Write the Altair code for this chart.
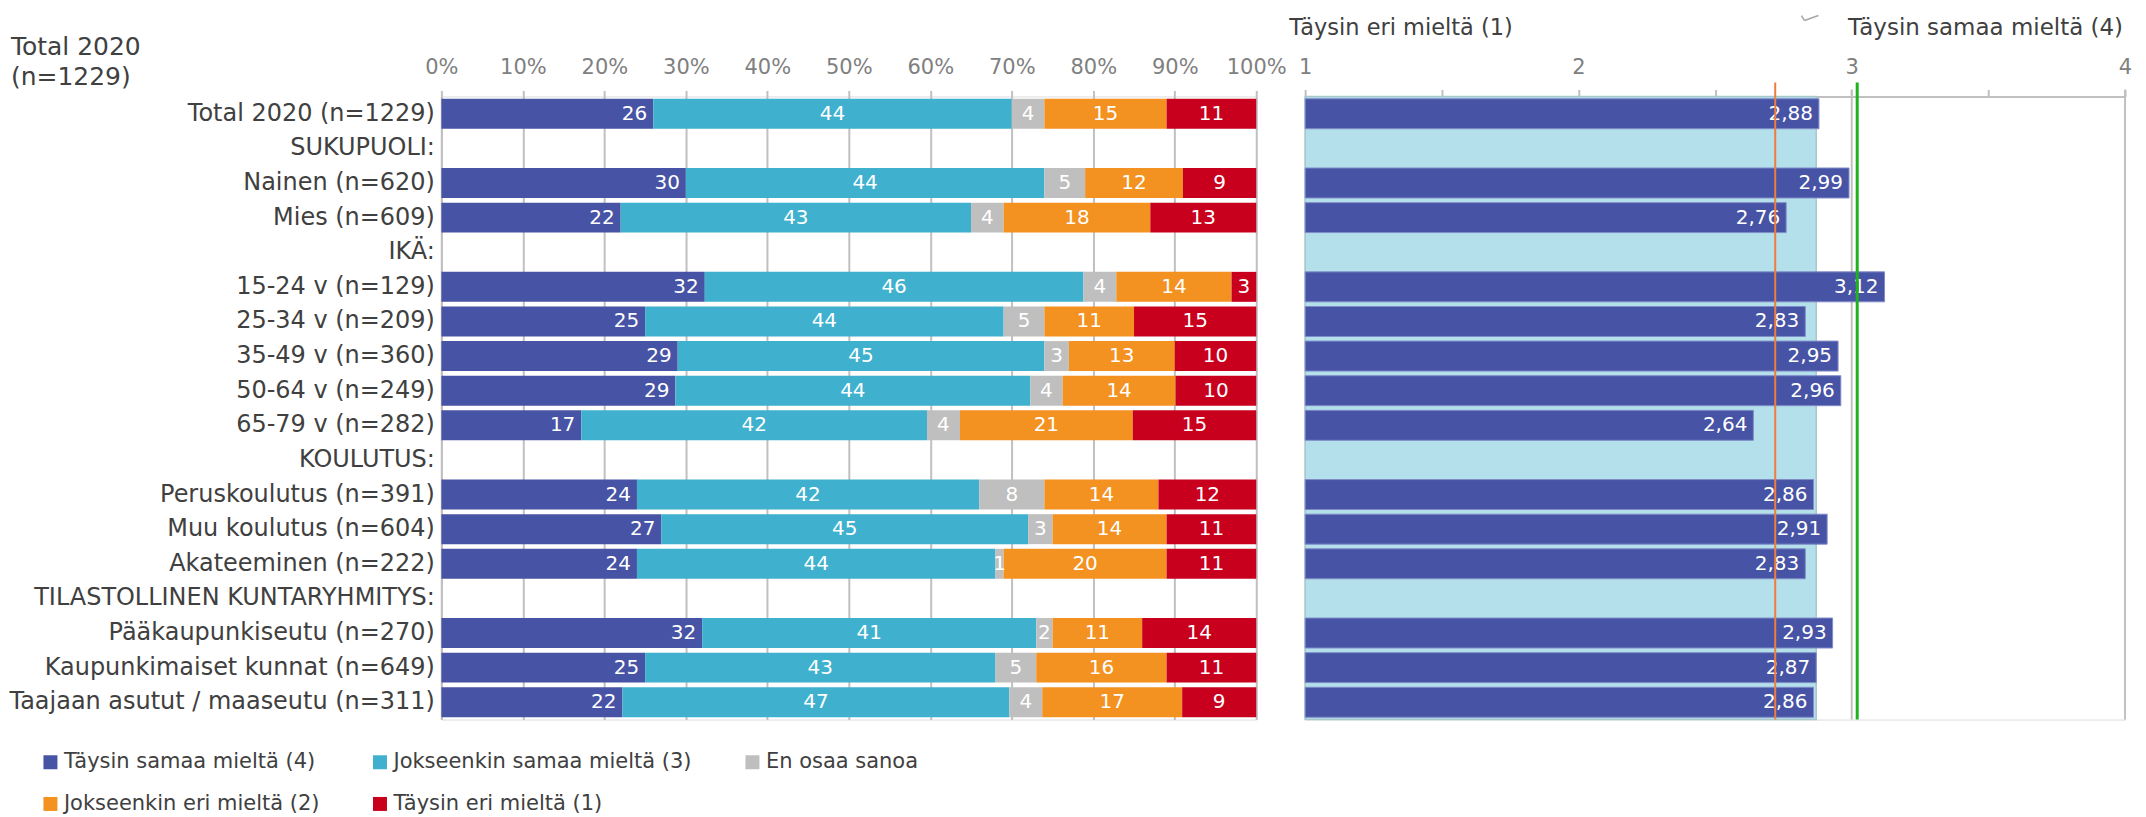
import altair as alt
import pandas as pd

categories = ["Total 2020 (n=1229)", "SUKUPUOLI:", "Nainen (n=620)", "Mies (n=609)", "IKÄ:",
              "15-24 v (n=129)", "25-34 v (n=209)", "35-49 v (n=360)", "50-64 v (n=249)", "65-79 v (n=282)",
              "KOULUTUS:", "Peruskoulutus (n=391)", "Muu koulutus (n=604)", "Akateeminen (n=222)",
              "TILASTOLLINEN KUNTARYHMITYS:", "Pääkaupunkiseutu (n=270)", "Kaupunkimaiset kunnat (n=649)",
              "Taajaan asutut / maaseutu (n=311)"]
series = ["Täysin samaa mieltä (4)", "Jokseenkin samaa mieltä (3)", "En osaa sanoa",
          "Jokseenkin eri mieltä (2)", "Täysin eri mieltä (1)"]
colors = ["#4753A5", "#3FB1CE", "#BFBFBF", "#F39121", "#C8001E"]

s4 = [26, None, 30, 22, None, 32, 25, 29, 29, 17, None, 24, 27, 24, None, 32, 25, 22]
s3 = [44, None, 44, 43, None, 46, 44, 45, 44, 42, None, 42, 45, 44, None, 41, 43, 47]
eos = [4, None, 5, 4, None, 4, 5, 3, 4, 4, None, 8, 3, 1, None, 2, 5, 4]
s2 = [15, None, 12, 18, None, 14, 11, 13, 14, 21, None, 14, 14, 20, None, 11, 16, 17]
s1 = [11, None, 9, 13, None, 3, 15, 10, 10, 15, None, 12, 11, 11, None, 14, 11, 9]
means = [2.88, None, 2.99, 2.76, None, 3.12, 2.83, 2.95, 2.96, 2.64, None, 2.86, 2.91, 2.83, None, 2.93, 2.87, 2.86]

pct_ticks = [0, 0.1, 0.2, 0.3, 0.4, 0.5, 0.6, 0.7, 0.8, 0.9, 1.0]
mean_ticks = [1, 1.5, 2, 2.5, 3, 3.5, 4]
total_band = 2.87
orange_ref = 2.72
green_ref = 3.02
gray_refs = [3, 4]

FONT = "DejaVu Sans"
TXT = "#404040"
GRID = "#C0C0C0"
W_L, W_R, H = 816, 821, 624

rows = []
for i, c in enumerate(categories):
    for k, vals in enumerate([s4, s3, eos, s2, s1]):
        if vals[i] is not None:
            rows.append({"cat": c, "series": series[k], "order": k, "value": vals[i]})
long_df = pd.DataFrame(rows)

yscale = alt.Scale(domain=categories, paddingInner=0.14, paddingOuter=0.07)
xl_scale = alt.Scale(domain=[0, 1], nice=False)

base_l = alt.Chart(long_df).transform_stack(
    stack="value", groupby=["cat"], as_=["v0", "v1"], offset="normalize",
    sort=[alt.SortField("order", order="ascending")]
).transform_calculate(mid="(datum.v0 + datum.v1) / 2")

bars_l = base_l.mark_bar(size=30).encode(
    x=alt.X("v0:Q", scale=xl_scale, axis=alt.Axis(
        orient="top", values=pct_ticks, format=".0%", grid=True, gridColor=GRID, gridWidth=2,
        tickColor=GRID, tickWidth=2, tickSize=6, domain=False, labelFontSize=21, labelFont=FONT,
        labelColor="#808080", labelPadding=13, labelOverlap=False, labelFlush=False, title=None)),
    x2="v1:Q",
    y=alt.Y("cat:N", sort=categories, scale=yscale, axis=alt.Axis(
        title=None, labelFontSize=24, labelFont=FONT, labelColor=TXT, labelPadding=7, ticks=False,
        domain=True, domainColor=GRID, domainWidth=2, labelLimit=600)),
    color=alt.Color("series:N", scale=alt.Scale(domain=series, range=colors), legend=alt.Legend(
        title=None, orient="none", legendX=-402, legendY=656, columns=3, direction="horizontal",
        symbolType="square", symbolSize=196, symbolStrokeWidth=0, labelFontSize=21, labelFont=FONT,
        labelColor=TXT, columnPadding=50, rowPadding=20, labelOffset=3, gridAlign="each", labelLimit=600)),
)

txt_blue = base_l.transform_filter("datum.order == 0").mark_text(
    align="right", dx=-6, color="white", fontSize=20, font=FONT, baseline="middle"
).encode(x="v1:Q", y=alt.Y("cat:N", sort=categories, scale=yscale), text="value:Q")

txt_rest = base_l.transform_filter("datum.order > 0").mark_text(
    align="center", color="white", fontSize=20, font=FONT, baseline="middle"
).encode(x="mid:Q", y=alt.Y("cat:N", sort=categories, scale=yscale), text="value:Q")

corner = alt.Chart(pd.DataFrame({"t": ["Total 2020", "(n=1229)"], "yy": [-50, -19]})).mark_text(
    align="left", baseline="middle", fontSize=25, font=FONT, color=TXT
).encode(x=alt.value(-431), y=alt.Y("yy:Q", scale=None), text="t:N")

left = alt.layer(bars_l, txt_blue, txt_rest, corner).properties(width=W_L, height=H)

# right panel
right_df = pd.DataFrame({"cat": categories, "mean": means})
xr_scale = alt.Scale(domain=[1, 4], nice=False, zero=False)
xr_axis = alt.Axis(orient="top", values=mean_ticks,
                   labelExpr="datum.value % 1 == 0 ? format(datum.value, 'd') : ''",
                   grid=False, domainColor=GRID, domainWidth=2, tickColor=GRID, tickWidth=2, tickSize=7,
                   labelFontSize=21, labelFont=FONT, labelColor="#808080", labelPadding=12,
                   labelOverlap=False, labelFlush=False, title=None)

band = alt.Chart(pd.DataFrame({"a": [1.0], "b": [total_band]})).mark_rect(
    color="#B3E0EB", stroke="#A9C6CC", strokeWidth=1.5
).encode(x=alt.X("a:Q", scale=xr_scale, axis=xr_axis), x2="b:Q", y=alt.value(0), y2=alt.value(H))

gray_rules = alt.Chart(pd.DataFrame({"v": gray_refs})).mark_rule(color=GRID, strokeWidth=2).encode(
    x=alt.X("v:Q", scale=xr_scale), y=alt.value(-7), y2=alt.value(H))

bars_r = alt.Chart(right_df).transform_filter("isValid(datum.mean)").mark_bar(
    color="#4753A5", stroke="#7F8CC8", strokeWidth=1, size=30
).encode(x=alt.X("mean:Q", scale=xr_scale), x2=alt.datum(1),
         y=alt.Y("cat:N", sort=categories, scale=yscale, axis=alt.Axis(
             labels=False, ticks=False, title=None, domain=True, domainColor=GRID, domainWidth=2)))

txt_r = alt.Chart(right_df).transform_filter("isValid(datum.mean)").transform_calculate(
    lbl="replace(format(datum.mean, '.2f'), '.', ',')"
).mark_text(align="right", dx=-6, color="white", fontSize=20, font=FONT, baseline="middle").encode(
    x=alt.X("mean:Q", scale=xr_scale), y=alt.Y("cat:N", sort=categories, scale=yscale), text="lbl:N")

orange = alt.Chart(pd.DataFrame({"v": [orange_ref]})).mark_rule(color="#F07D3C", strokeWidth=2).encode(
    x=alt.X("v:Q", scale=xr_scale), y=alt.value(-14), y2=alt.value(H))
green = alt.Chart(pd.DataFrame({"v": [green_ref]})).mark_rule(color="#1DB31D", strokeWidth=3).encode(
    x=alt.X("v:Q", scale=xr_scale), y=alt.value(-14), y2=alt.value(H))

ann_l = alt.Chart(pd.DataFrame({"v": [1.0], "t": ["Täysin eri mieltä (1)"]})).mark_text(
    align="left", dx=-16, baseline="middle", fontSize=22.5, font=FONT, color=TXT
).encode(x=alt.X("v:Q", scale=xr_scale), y=alt.value(-69), text="t:N")
ann_r = alt.Chart(pd.DataFrame({"v": [4.0], "t": ["Täysin samaa mieltä (4)"]})).mark_text(
    align="right", dx=-2, baseline="middle", fontSize=23, font=FONT, color=TXT
).encode(x=alt.X("v:Q", scale=xr_scale), y=alt.value(-69), text="t:N")

vshape1 = alt.Chart(pd.DataFrame({"k": [0]})).mark_rule(color="#A6A6A6", strokeWidth=1.5).encode(
    x=alt.value(497), x2=alt.value(500), y=alt.value(-81), y2=alt.value(-76))
vshape2 = alt.Chart(pd.DataFrame({"k": [0]})).mark_rule(color="#A6A6A6", strokeWidth=1.5).encode(
    x=alt.value(500), x2=alt.value(514), y=alt.value(-76), y2=alt.value(-81))

right = alt.layer(band, gray_rules, bars_r, txt_r, orange, green, ann_l, ann_r, vshape1, vshape2).properties(
    width=W_R, height=H)

chart = alt.hconcat(left, right, spacing=49, bounds="flush").resolve_scale(
    x="independent", y="shared"
).properties(
    padding={"left": 0, "top": 5, "right": 5, "bottom": 5}
).configure_view(stroke=None).configure(font=FONT)

chart.save("out.html", embed_options={"renderer": "svg", "actions": False})
